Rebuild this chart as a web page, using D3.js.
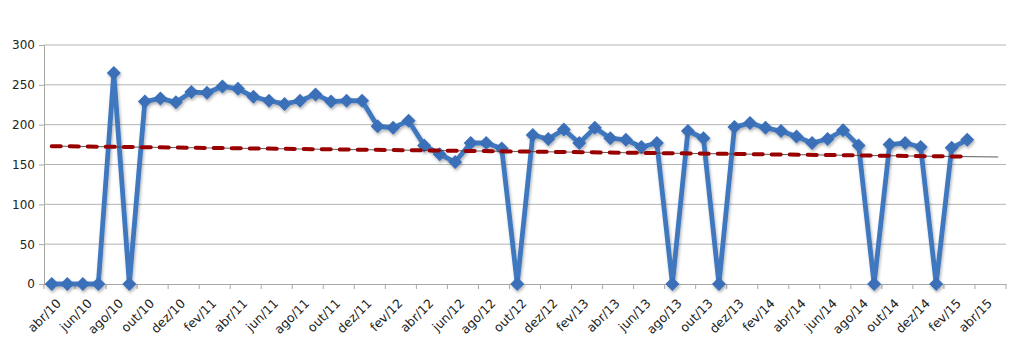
<!DOCTYPE html>
<html><head><meta charset="utf-8">
<script src="https://cdn.jsdelivr.net/npm/d3@7"></script>
<style>
body{margin:0;background:#fff;}
text{font-family:"DejaVu Sans",sans-serif;}
</style></head>
<body><svg id="c" width="1024" height="361"></svg>
<script>
const categories = ["abr/10","mai/10","jun/10","jul/10","ago/10","set/10","out/10","nov/10","dez/10",
"jan/11","fev/11","mar/11","abr/11","mai/11","jun/11","jul/11","ago/11","set/11","out/11","nov/11","dez/11",
"jan/12","fev/12","mar/12","abr/12","mai/12","jun/12","jul/12","ago/12","set/12","out/12","nov/12","dez/12",
"jan/13","fev/13","mar/13","abr/13","mai/13","jun/13","jul/13","ago/13","set/13","out/13","nov/13","dez/13",
"jan/14","fev/14","mar/14","abr/14","mai/14","jun/14","jul/14","ago/14","set/14","out/14","nov/14","dez/14",
"jan/15","fev/15","mar/15","abr/15","mai/15"];
const values = [0,0,0,0,265,0,229,233,228,
241,240,248,245,235,230,226,230,238,229,230,230,
198,196,205,174,163,153,177,177,170,0,187,182,
194,177,196,183,181,172,177,0,192,183,0,197,
202,196,192,185,177,182,193,174,0,175,177,172,
0,171,181];
const yTicks = [0,50,100,150,200,250,300];
const tickLabels = categories.filter((d,i)=>i%2===0 && i<=60);
const trendForward = 2; // periods forecast forward by the trendline

const svg = d3.select("#c");
const m = {l:44, r:1006, t:45, b:284};
const x = d3.scaleBand().domain(categories).range([m.l, m.r]);
const cx = d => x(d) + x.bandwidth()/2;
const y = d3.scaleLinear().domain([0,300]).range([m.b, m.t]);

// gridlines
svg.append("g").selectAll("line").data(yTicks.slice(1)).join("line")
  .attr("x1", m.l).attr("x2", m.r).attr("y1", d=>y(d)).attr("y2", d=>y(d))
  .attr("stroke","#b4b4b4").attr("stroke-width",1);

// y axis
const ya = svg.append("g").attr("transform",`translate(${m.l},0)`)
  .call(d3.axisLeft(y).tickValues(yTicks).tickSize(5).tickPadding(4));
ya.select(".domain").attr("stroke","#a8a8a8");
ya.selectAll(".tick line").attr("stroke","#a8a8a8");
ya.selectAll("text").attr("font-size",12).attr("fill","#222");

// x axis
const xa = svg.append("g").attr("transform",`translate(0,${m.b})`)
  .call(d3.axisBottom(x).tickValues([]).tickSizeOuter(0));
xa.select(".domain").attr("stroke","#a8a8a8");
const bw = x.bandwidth();
const tickPos = d3.range(0, categories.length+1, 2).map(i => m.l + i*bw);
xa.selectAll(".tk").data(tickPos).join("line").attr("class","tk")
  .attr("x1",d=>d).attr("x2",d=>d).attr("y1",0).attr("y2",5).attr("stroke","#a8a8a8");
xa.selectAll(".lbl").data(tickLabels).join("text").attr("class","lbl")
  .attr("transform", d => `translate(${cx(d)+4},${14}) rotate(-45)`)
  .attr("text-anchor","end").attr("dy","0.7em")
  .attr("font-size",12.5).attr("fill","#222").text(d=>d);

// data series
const pts = values.map((v,i)=>({c:categories[i], v}));
const defs = svg.append("defs");
const f = defs.append("filter").attr("id","sh").attr("x","-20%").attr("y","-20%").attr("width","140%").attr("height","140%");
f.append("feDropShadow").attr("dx",1).attr("dy",2).attr("stdDeviation",1.5).attr("flood-color","#000").attr("flood-opacity",0.3);

const g = svg.append("g").attr("filter","url(#sh)");
g.append("path").datum(pts)
  .attr("d", d3.line().x(d=>cx(d.c)).y(d=>y(d.v)))
  .attr("fill","none").attr("stroke","#4178c0").attr("stroke-width",4.8).attr("stroke-linejoin","round");
g.selectAll(".mk").data(pts).join("path").attr("class","mk")
  .attr("transform", d=>`translate(${cx(d.c)},${y(d.v)})`)
  .attr("d","M0,-7L7,0L0,7L-7,0Z").attr("fill","#3a6fb8");

// linear trend
const n = values.length;
const xs = d3.range(n);
const mx = d3.mean(xs), my = d3.mean(values);
const slope = d3.sum(xs, i => (i-mx)*(values[i]-my)) / d3.sum(xs, i => (i-mx)*(i-mx));
const icpt = my - slope*mx;
const idxToX = i => m.l + (i+0.5)*bw;
const endIdx = n - 1 + trendForward;
svg.append("line")
  .attr("x1", idxToX(0)).attr("y1", y(icpt))
  .attr("x2", idxToX(endIdx)).attr("y2", y(icpt+slope*endIdx))
  .attr("stroke","#333").attr("stroke-width",0.8);
svg.append("line")
  .attr("x1", idxToX(0)).attr("y1", y(icpt))
  .attr("x2", idxToX(n-1)).attr("y2", y(icpt+slope*(n-1)))
  .attr("stroke","#990000").attr("stroke-width",4).attr("stroke-dasharray","9,9").attr("stroke-linecap","round");
</script></body></html>
